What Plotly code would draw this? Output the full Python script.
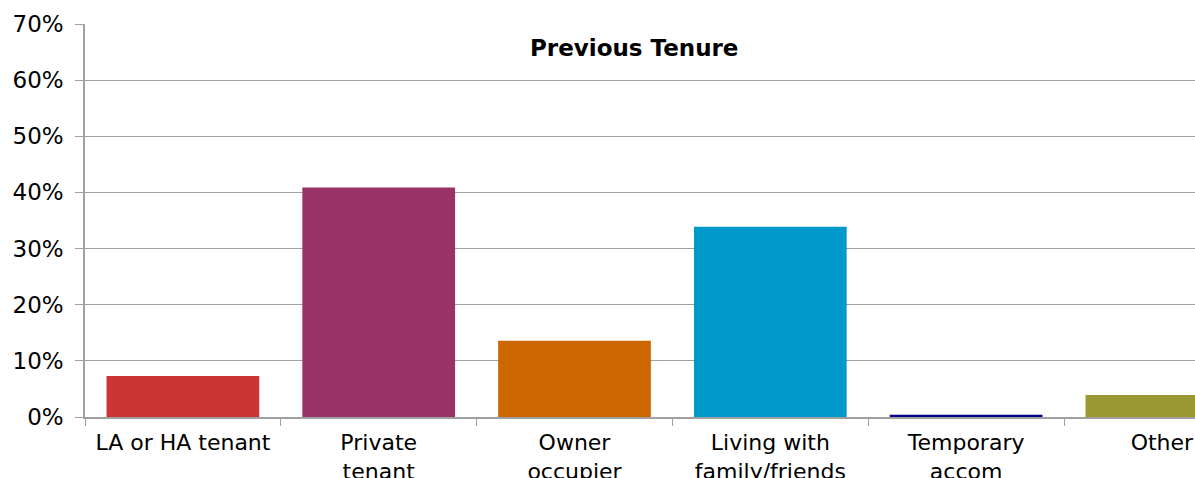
import plotly.graph_objects as go

categories = ["LA or HA tenant", "Private<br>tenant", "Owner<br>occupier",
              "Living with<br>family/friends", "Temporary<br>accom", "Other"]
values = [7.3, 40.9, 13.6, 33.9, 0.4, 3.9]
colors = ["#CC3333", "#993366", "#CC6600", "#0099CC", "#000080", "#999933"]
y_ticks = [0, 10, 20, 30, 40, 50, 60, 70]
y_tick_labels = [f"{v}%" for v in y_ticks]

fig = go.Figure(go.Bar(x=categories, y=values, marker=dict(color=colors, line=dict(width=0))))

font = "DejaVu Sans, Arial, sans-serif"
fig.update_layout(
    width=1195, height=478,
    margin=dict(l=85, r=0, t=24, b=61),
    plot_bgcolor="white", paper_bgcolor="white",
    bargap=0.22,
    showlegend=False,
    font=dict(family=font, size=22, color="black"),
    xaxis=dict(range=[-0.5, 5.169], showline=True, linecolor="#A0A0A0", linewidth=1.5,
               ticks="outside", tickson="boundaries", ticklen=7, tickcolor="#A0A0A0",
               showgrid=False, tickfont=dict(size=22), fixedrange=True,
               ticklabelstandoff=5, automargin=False),
    yaxis=dict(range=[0, 70], tickvals=y_ticks, ticktext=y_tick_labels,
               showline=True, linecolor="#A0A0A0", linewidth=1.5,
               ticks="outside", ticklen=8, tickcolor="#A0A0A0",
               showgrid=True, gridcolor="#A0A0A0", gridwidth=1.2,
               zeroline=False, tickfont=dict(size=23), ticklabelstandoff=7,
               automargin=False),
    annotations=[dict(text="<b>Previous Tenure</b>", x=0.4946, y=0.94, xref="paper", yref="paper",
                      xanchor="center", yanchor="middle",
                      showarrow=False, font=dict(family=font, size=23, color="black"))],
)

fig.write_html("out.html")
